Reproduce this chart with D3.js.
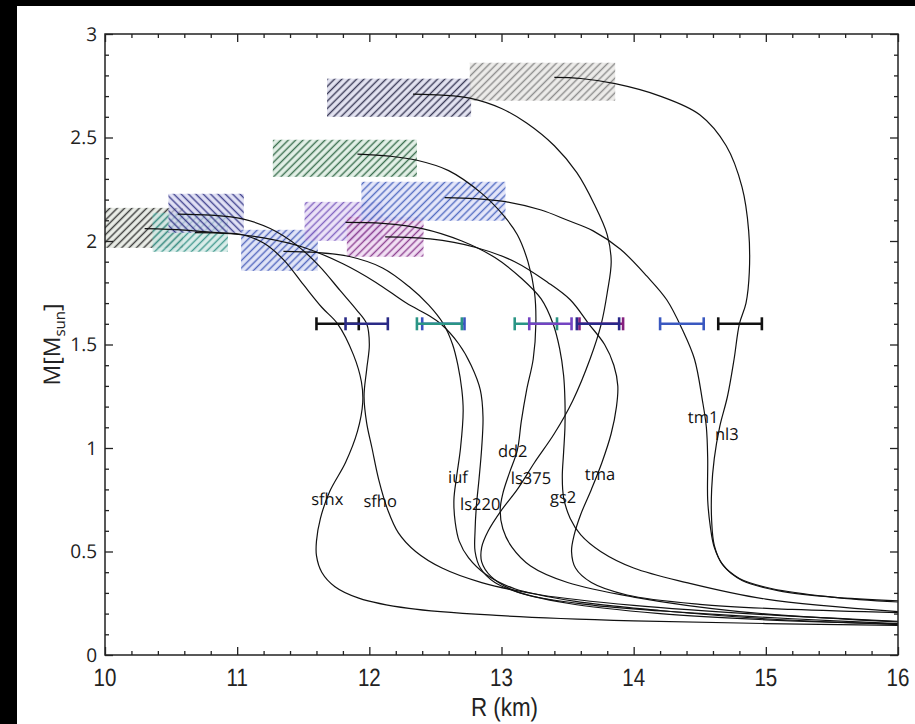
<!DOCTYPE html>
<html><head><meta charset="utf-8">
<script src="https://cdn.jsdelivr.net/npm/d3@7"></script>
<style>body{margin:0;background:#fff;overflow:hidden} text{text-rendering:geometricPrecision}</style>
</head><body><svg id="c" width="915" height="724"></svg>
<script>
// ---------- DATA ----------
const eosNames = ["sfho","sfhx","ls220","iuf","dd2","gs2","tma","ls375","tm1","nl3"];

const curve_sfho = [[10.30,2.06],[10.6,2.053],[10.85,2.04],[11.04,2.03],[11.2,1.99],[11.35,1.91],[11.5,1.79],[11.64,1.68],[11.76,1.60],[11.88,1.45],[11.94,1.32],[11.95,1.22],[11.91,1.08],[11.82,0.93],[11.70,0.79],[11.63,0.66],[11.60,0.55],[11.60,0.48],[11.64,0.40],[11.74,0.33],[11.92,0.275],[12.3,0.225],[13.0,0.19],[14.0,0.165],[15.0,0.152],[16.0,0.143]];
const curve_sfhx = [[10.55,2.13],[10.8,2.125],[11.04,2.107],[11.25,2.06],[11.45,1.98],[11.62,1.88],[11.78,1.76],[11.90,1.67],[11.98,1.60],[12.0,1.50],[11.98,1.38],[11.96,1.25],[11.98,1.12],[12.02,1.0],[12.07,0.85],[12.14,0.70],[12.22,0.59],[12.35,0.50],[12.55,0.42],[12.85,0.35],[13.3,0.29],[14.0,0.24],[15.0,0.195],[16.0,0.163]];
const curve_ls220 = [[10.68,2.04],[10.95,2.035],[11.2,2.015],[11.5,1.97],[11.8,1.89],[12.05,1.80],[12.28,1.70],[12.45,1.64],[12.54,1.60],[12.68,1.50],[12.77,1.40],[12.84,1.28],[12.86,1.15],[12.85,1.0],[12.83,0.85],[12.81,0.72],[12.80,0.60],[12.80,0.50],[12.84,0.42],[12.95,0.35],[13.2,0.29],[13.7,0.24],[14.4,0.205],[15.2,0.175],[16.0,0.152]];
const curve_iuf = [[11.35,1.95],[11.6,1.945],[11.85,1.925],[12.1,1.87],[12.3,1.78],[12.45,1.69],[12.56,1.60],[12.63,1.50],[12.67,1.40],[12.70,1.28],[12.71,1.18],[12.69,1.0],[12.66,0.86],[12.64,0.75],[12.65,0.64],[12.68,0.55],[12.75,0.47],[12.88,0.39],[13.1,0.32],[13.55,0.26],[14.2,0.215],[15.0,0.175],[16.0,0.147]];
const curve_dd2 = [[11.91,2.42],[12.15,2.41],[12.36,2.39],[12.6,2.34],[12.85,2.23],[13.02,2.12],[13.12,2.03],[13.20,1.90],[13.25,1.75],[13.26,1.60],[13.24,1.43],[13.19,1.28],[13.15,1.13],[13.12,0.99],[13.06,0.88],[13.01,0.78],[12.99,0.70],[13.01,0.61],[13.08,0.52],[13.22,0.43],[13.5,0.35],[14.0,0.28],[14.8,0.21],[16.0,0.16]];
const curve_gs2 = [[11.82,2.09],[12.1,2.085],[12.4,2.06],[12.7,2.0],[12.95,1.92],[13.15,1.82],[13.30,1.72],[13.39,1.60],[13.44,1.48],[13.47,1.35],[13.48,1.23],[13.48,1.10],[13.47,0.98],[13.46,0.86],[13.47,0.76],[13.52,0.66],[13.60,0.58],[13.75,0.50],[14.0,0.42],[14.4,0.35],[15.0,0.27],[16.0,0.21]];
const curve_tma = [[12.12,2.02],[12.46,2.01],[12.8,1.97],[13.1,1.90],[13.35,1.80],[13.52,1.716],[13.66,1.60],[13.78,1.50],[13.85,1.40],[13.88,1.30],[13.87,1.20],[13.83,1.07],[13.76,0.93],[13.68,0.80],[13.60,0.68],[13.55,0.58],[13.53,0.50],[13.56,0.42],[13.68,0.35],[13.95,0.29],[14.5,0.245],[15.2,0.22],[16.0,0.205]];
const curve_ls375 = [[12.33,2.71],[12.55,2.705],[12.76,2.69],[13.0,2.64],[13.19,2.57],[13.4,2.46],[13.57,2.33],[13.70,2.18],[13.80,2.03],[13.83,1.90],[13.80,1.75],[13.755,1.60],[13.67,1.43],[13.54,1.23],[13.40,1.07],[13.25,0.93],[13.12,0.80],[13.0,0.70],[12.90,0.60],[12.85,0.52],[12.85,0.45],[12.92,0.38],[13.1,0.31],[13.5,0.25],[14.2,0.20],[15.0,0.17],[16.0,0.15]];
const curve_tm1 = [[12.57,2.21],[12.8,2.205],[13.03,2.19],[13.3,2.15],[13.5,2.10],[13.69,2.05],[13.9,1.96],[14.1,1.83],[14.25,1.716],[14.37,1.57],[14.46,1.43],[14.52,1.23],[14.55,1.10],[14.56,0.95],[14.56,0.75],[14.58,0.62],[14.61,0.52],[14.68,0.43],[14.82,0.36],[15.1,0.31],[15.5,0.28],[16.0,0.262]];
const curve_nl3 = [[13.40,2.79],[13.6,2.785],[13.86,2.76],[14.2,2.70],[14.5,2.61],[14.7,2.46],[14.82,2.26],[14.87,2.05],[14.875,1.85],[14.85,1.70],[14.80,1.60],[14.76,1.43],[14.71,1.25],[14.65,1.10],[14.61,0.95],[14.59,0.80],[14.59,0.65],[14.61,0.53],[14.67,0.44],[14.80,0.37],[15.05,0.32],[15.5,0.28],[16.0,0.256]];

// hatched boxes (same order as eosNames)
const boxRMin = [10.00,10.48,10.36,11.03,11.27,11.51,11.83,11.68,11.94,12.76];
const boxRMax = [10.59,11.05,10.93,11.61,12.36,12.10,12.41,12.77,13.03,13.86];
const boxMMin = [1.967,2.040,1.948,1.856,2.310,2.001,1.924,2.600,2.098,2.678];
const boxMMax = [2.160,2.228,2.136,2.054,2.489,2.189,2.117,2.784,2.286,2.861];
const boxDrawOrder = ["sfho","ls220","sfhx","iuf","gs2","tma","tm1","dd2","ls375","nl3"];

// radius ranges at 1.6 Msun (error bars)
const barMass = 1.6;
const barRLow  = [11.60,11.82,12.36,12.40,13.10,13.21,13.59,13.57,14.20,14.64];
const barRHigh = [11.92,12.14,12.70,12.72,13.42,13.53,13.92,13.89,14.53,14.97];
const barDrawOrder = ["sfho","sfhx","iuf","ls220","dd2","gs2","tma","ls375","tm1","nl3"];

// curve labels
const labelR = [11.955,11.56,12.686,12.595,12.973,13.367,13.63,13.07,14.41,14.615];
const labelM = [0.715,0.725,0.70,0.83,0.957,0.735,0.846,0.826,1.121,1.039];

// axis ticks
const xMajor = [10,11,12,13,14,15,16];
const yMajor = [0,0.5,1,1.5,2,2.5,3];
const yMajorLabels = ["0","0.5","1","1.5","2","2.5","3"];

// ---------- STYLE ----------
const boxStyle = {
  sfho:  {bg:"#dfe4dc", hatch:"#1c1c1c", dir:45},
  ls220: {bg:"#c9e4df", hatch:"#2a8c80", dir:45},
  sfhx:  {bg:"#d3d3f0", hatch:"#27287e", dir:-45},
  iuf:   {bg:"#d3d9f4", hatch:"#3a52b4", dir:45},
  gs2:   {bg:"#e2d6f4", hatch:"#7250b8", dir:45},
  tma:   {bg:"#ebd2ee", hatch:"#7f2a82", dir:45},
  tm1:   {bg:"#d8dcf6", hatch:"#3a58b8", dir:45},
  dd2:   {bg:"#d6e8dc", hatch:"#1f5a36", dir:45},
  ls375: {bg:"#d6d6ea", hatch:"#1e1e3e", dir:45},
  nl3:   {bg:"#e4e2df", hatch:"#7c7c7c", dir:45}
};
const barColor = {sfho:"#111111", sfhx:"#2a2a86", iuf:"#3a52c0", ls220:"#2a9585",
  dd2:"#2a9585", gs2:"#7444c2", tma:"#85207e", ls375:"#28288a", tm1:"#3a58c0", nl3:"#111111"};

// ---------- DRAW ----------
const curves = {sfho:curve_sfho, sfhx:curve_sfhx, ls220:curve_ls220, iuf:curve_iuf, dd2:curve_dd2,
  gs2:curve_gs2, tma:curve_tma, ls375:curve_ls375, tm1:curve_tm1, nl3:curve_nl3};
const svg = d3.select("#c");
const L = 105, R = 898, T = 34, B = 655;
const x = d3.scaleLinear().domain([10,16]).range([L,R]);
const y = d3.scaleLinear().domain([0,3]).range([B,T]);

svg.append("rect").attr("width",915).attr("height",724).attr("fill","#fff");
svg.append("rect").attr("x",0).attr("y",0).attr("width",17).attr("height",724).attr("fill","#000");
svg.append("rect").attr("x",0).attr("y",0).attr("width",915).attr("height",6).attr("fill","#000");

const defs = svg.append("defs");
defs.append("clipPath").attr("id","plotclip").append("rect")
  .attr("x",L).attr("y",T).attr("width",R-L).attr("height",B-T);

eosNames.forEach(n=>{
  const s = boxStyle[n];
  const p = defs.append("pattern").attr("id","h_"+n).attr("patternUnits","userSpaceOnUse")
    .attr("width",5.2).attr("height",10).attr("patternTransform",`rotate(${s.dir})`);
  p.append("line").attr("x1",1.3).attr("y1",-1).attr("x2",1.3).attr("y2",11)
    .attr("stroke",s.hatch).attr("stroke-width",1.4);
});

const plot = svg.append("g").attr("clip-path","url(#plotclip)");

// boxes
boxDrawOrder.forEach(n=>{
  const i = eosNames.indexOf(n);
  const bx = x(boxRMin[i]), bw = x(boxRMax[i]) - x(boxRMin[i]);
  const by = y(boxMMax[i]), bh = y(boxMMin[i]) - y(boxMMax[i]);
  plot.append("rect").attr("x",bx).attr("y",by).attr("width",bw).attr("height",bh)
    .attr("fill",boxStyle[n].bg).attr("fill-opacity",0.7);
  plot.append("rect").attr("x",bx).attr("y",by).attr("width",bw).attr("height",bh)
    .attr("fill",`url(#h_${n})`).attr("opacity",0.85);
});

// curves
const line = d3.line().x(d=>x(d[0])).y(d=>y(d[1])).curve(d3.curveCatmullRom.alpha(0.5));
eosNames.forEach(n=>{
  plot.append("path").attr("d",line(curves[n])).attr("fill","none")
    .attr("stroke","#111").attr("stroke-width",1.2);
});

// error bars
barDrawOrder.forEach(n=>{
  const i = eosNames.indexOf(n);
  const g = plot.append("g").attr("stroke",barColor[n]).attr("stroke-width",2.6);
  const yy = y(barMass);
  g.append("line").attr("x1",x(barRLow[i])).attr("x2",x(barRHigh[i])).attr("y1",yy).attr("y2",yy);
  [barRLow[i],barRHigh[i]].forEach(r=>{
    g.append("line").attr("x1",x(r)).attr("x2",x(r)).attr("y1",yy-6.5).attr("y2",yy+6.5);
  });
});

// labels
eosNames.forEach((n,i)=>{
  svg.append("text").attr("x",x(labelR[i])).attr("y",y(labelM[i]))
    .attr("font-family","'Open Sans', sans-serif").attr("font-size",16.5).attr("fill","#111")
    .text(n);
});

// axes frame
const axCol = "#222";
svg.append("rect").attr("x",L).attr("y",T).attr("width",R-L).attr("height",B-T)
  .attr("fill","none").attr("stroke",axCol).attr("stroke-width",1.5);

const xMinor = d3.range(10,16.001,0.2).filter(v=>Math.abs(v-Math.round(v))>1e-6);
const yMinor = d3.range(0,3.001,0.1).filter(v=>Math.abs(v*2-Math.round(v*2))>1e-6);

function axisG(axisFn, scale, vals, size, tx){
  const g = svg.append("g").attr("transform",tx)
    .call(axisFn(scale).tickValues(vals).tickSize(-size).tickFormat(""));
  g.select(".domain").remove();
  g.selectAll(".tick line").attr("stroke",axCol).attr("stroke-width",1.3);
}
axisG(d3.axisBottom, x, xMajor, 8, `translate(0,${B})`);
axisG(d3.axisBottom, x, xMinor, 4, `translate(0,${B})`);
axisG(d3.axisTop, x, xMajor, 8, `translate(0,${T})`);
axisG(d3.axisTop, x, xMinor, 4, `translate(0,${T})`);
axisG(d3.axisLeft, y, yMajor, 8, `translate(${L},0)`);
axisG(d3.axisLeft, y, yMinor, 4, `translate(${L},0)`);
axisG(d3.axisRight, y, yMajor, 8, `translate(${R},0)`);
axisG(d3.axisRight, y, yMinor, 4, `translate(${R},0)`);

// tick labels
yMajor.forEach((v,i)=>{
  svg.append("text").attr("x",97).attr("y",y(v)).attr("dy","0.36em")
    .attr("text-anchor","end").attr("font-family","'Open Sans', sans-serif")
    .attr("font-size",19).attr("fill","#222").text(yMajorLabels[i]);
});
xMajor.forEach(v=>{
  svg.append("text").attr("transform",`translate(${x(v)},686) scale(0.82,1)`)
    .attr("text-anchor","middle").attr("font-family","'Liberation Sans', Arial, sans-serif")
    .attr("font-size",25).attr("fill","#222").text(v);
});

// axis titles
svg.append("text").attr("transform",`translate(${(L+R)/2+3},716) scale(0.86,1)`)
  .attr("text-anchor","middle").attr("font-family","'Liberation Sans', Arial, sans-serif")
  .attr("font-size",26).attr("fill","#222").text("R (km)");
const yt = svg.append("text").attr("transform",`translate(60,${(T+B)/2}) rotate(-90)`)
  .attr("text-anchor","middle").attr("font-family","'Open Sans', sans-serif")
  .attr("font-size",23).attr("fill","#222");
yt.append("tspan").text("M[M");
yt.append("tspan").attr("font-size",15).attr("dy",5).text("sun");
yt.append("tspan").attr("dy",-5).text("]");
</script></body></html>
